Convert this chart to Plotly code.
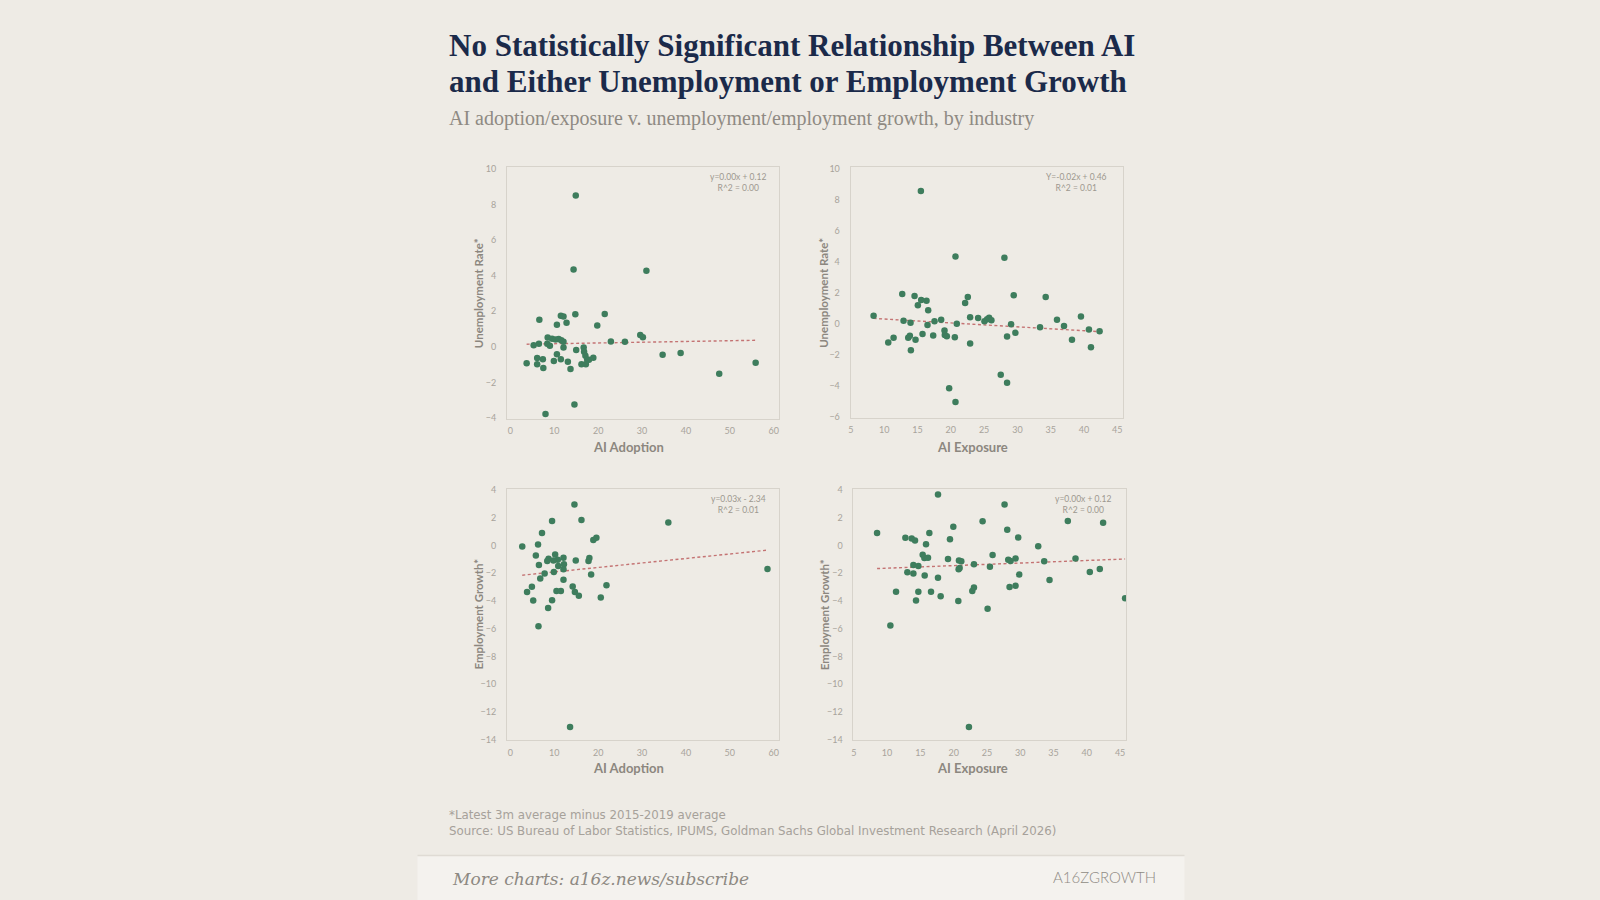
import plotly.graph_objects as go

# ---------------- data ----------------
adopt_unemp_x = [14.9, 14.4, 31.0, 6.6, 11.5, 12.1, 10.6, 12.8, 14.8, 21.5, 19.8, 8.5, 9.5, 10.3, 11.0, 11.6, 12.1,
                 8.4, 9.0, 6.5, 5.3, 12.1, 22.9, 26.1, 29.6, 30.2, 15.0, 16.7, 16.8, 17.1, 17.5, 17.9, 18.9, 16.2,
                 17.2, 3.7, 6.1, 7.4, 6.1, 7.5, 9.9, 10.6, 11.5, 13.1, 13.7, 34.7, 38.8, 47.6, 55.9, 14.6, 8.0]
adopt_unemp_y = [8.5, 4.34, 4.27, 1.52, 1.75, 1.70, 1.24, 1.35, 1.83, 1.85, 1.20, 0.52, 0.46, 0.42, 0.44, 0.37, 0.28,
                 0.18, 0.06, 0.18, 0.09, -0.04, 0.30, 0.28, 0.66, 0.54, -0.17, -0.04, -0.28, -0.50, -0.72, -0.72,
                 -0.61, -0.98, -0.98, -0.92, -0.63, -0.70, -0.98, -1.18, -0.79, -0.42, -0.70, -0.83, -1.24, -0.44,
                 -0.35, -1.51, -0.89, -3.23, -3.77]
adopt_unemp_trend_x = [3.7, 56.0]
adopt_unemp_trend_y = [0.15, 0.37]

expo_unemp_x = [15.5, 20.7, 28.05, 12.7, 14.55, 15.55, 16.35, 15.05, 16.6, 22.15, 22.55, 29.45, 34.25, 8.4, 12.9,
                13.95, 16.5, 17.55, 18.55, 20.9, 22.9, 24.1, 25.05, 25.45, 25.75, 26.1, 29.05, 29.7, 28.45, 33.4,
                35.95, 37.0, 39.55, 40.75, 42.35, 38.2, 41.05, 10.6, 11.4, 13.6, 13.85, 14.7, 14.0, 15.75, 17.35,
                19.05, 19.1, 19.4, 20.6, 22.9, 27.5, 28.45, 19.75, 20.7]
expo_unemp_y = [8.56, 4.34, 4.26, 1.93, 1.80, 1.55, 1.50, 1.21, 0.89, 1.36, 1.74, 1.86, 1.74, 0.53, 0.21, 0.08, -0.06,
                0.17, 0.28, 0.02, 0.44, 0.38, 0.17, 0.30, 0.40, 0.25, -0.02, -0.57, -0.81, -0.21, 0.28, -0.13, 0.49,
                -0.36, -0.47, -1.02, -1.50, -1.19, -0.89, -0.89, -0.76, -1.02, -1.69, -0.64, -0.74, -0.42, -0.70,
                -0.78, -0.85, -1.25, -3.26, -3.79, -4.13, -5.02]
expo_unemp_trend_x = [8.4, 42.35]
expo_unemp_trend_y = [0.36, -0.49]

adopt_emp_x = [14.6, 9.5, 16.2, 36.0, 7.2, 2.7, 6.3, 18.9, 19.6, 5.8, 10.2, 12.1, 8.7, 8.4, 10.8, 9.8, 14.9, 18.0,
               17.8, 6.5, 10.9, 12.2, 12.1, 9.9, 7.8, 18.4, 6.8, 12.1, 58.6, 4.9, 3.8, 14.2, 14.7, 15.6, 10.5, 11.5,
               21.9, 20.6, 5.2, 9.5, 8.6, 6.4, 13.6]
adopt_emp_y = [2.97, 1.78, 1.85, 1.66, 0.90, -0.07, 0.07, 0.40, 0.57, -0.71, -0.64, -0.88, -0.95, -1.12, -1.02,
               -1.07, -1.07, -0.90, -1.12, -1.40, -1.47, -1.35, -1.71, -1.90, -2.02, -2.09, -2.38, -2.47, -1.69,
               -2.97, -3.35, -2.95, -3.35, -3.63, -3.28, -3.28, -2.87, -3.75, -3.97, -3.94, -4.51, -5.82, -13.09]
adopt_emp_trend_x = [2.7, 58.6]
adopt_emp_trend_y = [-2.14, -0.33]

expo_emp_x = [17.65, 27.65, 24.35, 37.15, 42.45, 19.95, 28.05, 8.5, 16.35, 19.45, 12.75, 13.7, 14.2, 15.85, 29.7,
              32.7, 15.35, 15.6, 16.15, 19.15, 20.8, 21.15, 25.85, 28.2, 28.55, 29.3, 33.6, 38.3, 13.95, 14.7,
              13.05, 13.95, 15.65, 17.65, 20.75, 20.9, 23.05, 25.45, 29.85, 34.4, 40.45, 41.95, 11.35, 14.7, 16.6,
              18.05, 14.35, 20.7, 22.8, 23.05, 28.4, 29.3, 25.1, 45.75, 10.5, 22.3]
expo_emp_y = [3.68, 2.97, 1.76, 1.78, 1.64, 1.35, 1.14, 0.90, 0.90, 0.45, 0.57, 0.50, 0.36, 0.10, 0.59, -0.05, -0.67,
              -0.90, -0.88, -0.97, -1.07, -1.14, -0.69, -1.02, -1.12, -0.93, -1.14, -0.93, -1.40, -1.47, -1.92,
              -2.02, -2.16, -2.33, -1.71, -1.62, -1.35, -1.52, -2.09, -2.49, -1.90, -1.69, -3.33, -3.33, -3.33,
              -3.66, -3.97, -4.00, -3.28, -3.02, -2.99, -2.90, -4.56, -3.80, -5.77, -13.09]
expo_emp_trend_x = [8.5, 45.75]
expo_emp_trend_y = [-1.66, -0.97]

eq_labels = ["y=0.00x + 0.12<br>R^2 = 0.00", "Y=-0.02x + 0.46<br>R^2 = 0.01",
             "y=0.03x - 2.34<br>R^2 = 0.01", "y=0.00x + 0.12<br>R^2 = 0.00"]
x_titles = ["AI Adoption", "AI Exposure", "AI Adoption", "AI Exposure"]
y_titles = ["Unemployment Rate*", "Unemployment Rate*", "Employment Growth*", "Employment Growth*"]
adopt_ticks = [0, 10, 20, 30, 40, 50, 60]
expo_ticks = [5, 10, 15, 20, 25, 30, 35, 40, 45]
unemp1_ticks = [-4, -2, 0, 2, 4, 6, 8, 10]
unemp2_ticks = [-6, -4, -2, 0, 2, 4, 6, 8, 10]
emp_ticks = [-14, -12, -10, -8, -6, -4, -2, 0, 2, 4]

# ---------------- styling ----------------
W, H = 1600, 900
BG = "#eeebe5"
GREEN = "#3e7d5d"
TREND = "#c47373"
TICK = "#a8a39b"
AXT = "#8c877f"


def px(x):
    return x / W


def py(y):
    return 1 - y / H


panels = [
    dict(xs=adopt_unemp_x, ys=adopt_unemp_y, tx=adopt_unemp_trend_x, ty=adopt_unemp_trend_y,
         dom_x=(505.7, 778.3), dom_y=(164.3, 418.3), xr=[-0.76, 61.3], yr=[-4.03, 10.07],
         xt=adopt_ticks, yt=unemp1_ticks, eq=(737, 180), xtit=(627, 447), ytit=(477, 291)),
    dict(xs=expo_unemp_x, ys=expo_unemp_y, tx=expo_unemp_trend_x, ty=expo_unemp_trend_y,
         dom_x=(849.7, 1122.3), dom_y=(164.3, 417.3), xr=[4.95, 45.85], yr=[-6.03, 10.08],
         xt=expo_ticks, yt=unemp2_ticks, eq=(1076, 180), xtit=(972, 447), ytit=(823, 291)),
    dict(xs=adopt_emp_x, ys=adopt_emp_y, tx=adopt_emp_trend_x, ty=adopt_emp_trend_y,
         dom_x=(505.7, 778.3), dom_y=(489.3, 743.3), xr=[-0.76, 61.3], yr=[-14.03, 4.09],
         xt=adopt_ticks, yt=emp_ticks, eq=(737, 505), xtit=(627, 772), ytit=(477, 616)),
    dict(xs=expo_emp_x, ys=expo_emp_y, tx=expo_emp_trend_x, ty=expo_emp_trend_y,
         dom_x=(852.5, 1125.5), dom_y=(489.3, 743.3), xr=[4.95, 45.9], yr=[-14.03, 4.09],
         xt=expo_ticks, yt=emp_ticks, eq=(1082, 505), xtit=(972, 772), ytit=(823, 616)),
]

fig = go.Figure()
layout_axes = {}
annotations = []

for i, p in enumerate(panels, start=1):
    xa = "x" if i == 1 else f"x{i}"
    ya = "y" if i == 1 else f"y{i}"
    fig.add_trace(go.Scatter(x=p["tx"], y=p["ty"], mode="lines", xaxis=xa, yaxis=ya,
                             line=dict(color=TREND, width=1.4, dash="3px,2.5px"),
                             hoverinfo="skip", showlegend=False))
    fig.add_trace(go.Scatter(x=p["xs"], y=p["ys"], mode="markers", xaxis=xa, yaxis=ya,
                             marker=dict(color=GREEN, size=6.5, line=dict(width=0)),
                             showlegend=False))
    xkey = "xaxis" if i == 1 else f"xaxis{i}"
    ykey = "yaxis" if i == 1 else f"yaxis{i}"
    common = dict(showgrid=False, zeroline=False, showline=True, mirror=True,
                  linecolor="#d7d3cb", linewidth=1, ticks="", fixedrange=True,
                  tickfont=dict(family="Lato, sans-serif", size=9, color=TICK))
    layout_axes[xkey] = dict(domain=[px(p["dom_x"][0]), px(p["dom_x"][1])], range=p["xr"],
                             tickvals=p["xt"], anchor=ya, ticklabelstandoff=4, **common)
    layout_axes[ykey] = dict(domain=[py(p["dom_y"][1]), py(p["dom_y"][0])], range=p["yr"],
                             tickvals=p["yt"], anchor=xa, ticklabelstandoff=8, **common)
    annotations.append(dict(x=px(p["eq"][0]), y=py(p["eq"][1]), xref="paper", yref="paper",
                            text=eq_labels[i - 1], showarrow=False, align="center",
                            xanchor="center", yanchor="middle",
                            font=dict(family="Lato, sans-serif", size=8.5, color="#9d988f")))
    annotations.append(dict(x=px(p["xtit"][0]), y=py(p["xtit"][1]), xref="paper", yref="paper",
                            text=x_titles[i - 1], showarrow=False, xanchor="center", yanchor="middle",
                            font=dict(family="Lato, sans-serif", size=13, color=AXT, weight="bold")))
    annotations.append(dict(x=px(p["ytit"][0]), y=py(p["ytit"][1]), xref="paper", yref="paper",
                            text=y_titles[i - 1], showarrow=False, textangle=-90,
                            xanchor="center", yanchor="middle",
                            font=dict(family="Lato, sans-serif", size=11.5, color=AXT, weight="bold")))

# titles
annotations += [
    dict(x=px(446), y=py(41), xref="paper", yref="paper", xanchor="left", yanchor="middle",
         text="No Statistically Significant Relationship Between AI", showarrow=False,
         font=dict(family="Liberation Serif, serif", size=31, color="#1b2a4a", weight="bold")),
    dict(x=px(446), y=py(77), xref="paper", yref="paper", xanchor="left", yanchor="middle",
         text="and Either Unemployment or Employment Growth", showarrow=False,
         font=dict(family="Liberation Serif, serif", size=31, color="#1b2a4a", weight="bold")),
    dict(x=px(446), y=py(115), xref="paper", yref="paper", xanchor="left", yanchor="middle",
         text="AI adoption/exposure v. unemployment/employment growth, by industry", showarrow=False,
         font=dict(family="Liberation Serif, serif", size=20, color="#8f8a83")),
    dict(x=px(446), y=py(819), xref="paper", yref="paper", xanchor="left", yanchor="middle",
         text="*Latest 3m average minus 2015-2019 average", showarrow=False,
         font=dict(family="DejaVu Sans, sans-serif", size=11.8, color="#a6a19a")),
    dict(x=px(446), y=py(835), xref="paper", yref="paper", xanchor="left", yanchor="middle",
         text="Source: US Bureau of Labor Statistics, IPUMS, Goldman Sachs Global Investment Research (April 2026)",
         showarrow=False, font=dict(family="DejaVu Sans, sans-serif", size=11.8, color="#a6a19a")),
    dict(x=px(449), y=py(884), xref="paper", yref="paper", xanchor="left", yanchor="middle",
         text="<i>More charts: a16z.news/subscribe</i>", showarrow=False,
         font=dict(family="DejaVu Serif, serif", size=17, color="#8d8982")),
    dict(x=px(1157), y=py(882), xref="paper", yref="paper", xanchor="right", yanchor="middle",
         text="A16ZGROWTH", showarrow=False,
         font=dict(family="Lato, sans-serif", size=15, color="#8f8b84", weight=300)),
]

shapes = [
    dict(type="rect", xref="paper", yref="paper", x0=px(416), x1=px(1184), y0=-0.05, y1=py(860),
         fillcolor="#f4f2ee", line=dict(width=0), layer="below"),
    dict(type="line", xref="paper", yref="paper", x0=px(416), x1=px(1184), y0=py(860), y1=py(860),
         line=dict(color="#dfdbd4", width=1.5)),
]

fig.update_layout(width=W, height=H, margin=dict(l=0, r=0, t=0, b=0),
                  paper_bgcolor=BG, plot_bgcolor=BG, annotations=annotations, shapes=shapes,
                  showlegend=False, **layout_axes)

fig.write_html("out.html", config={"displayModeBar": False})
